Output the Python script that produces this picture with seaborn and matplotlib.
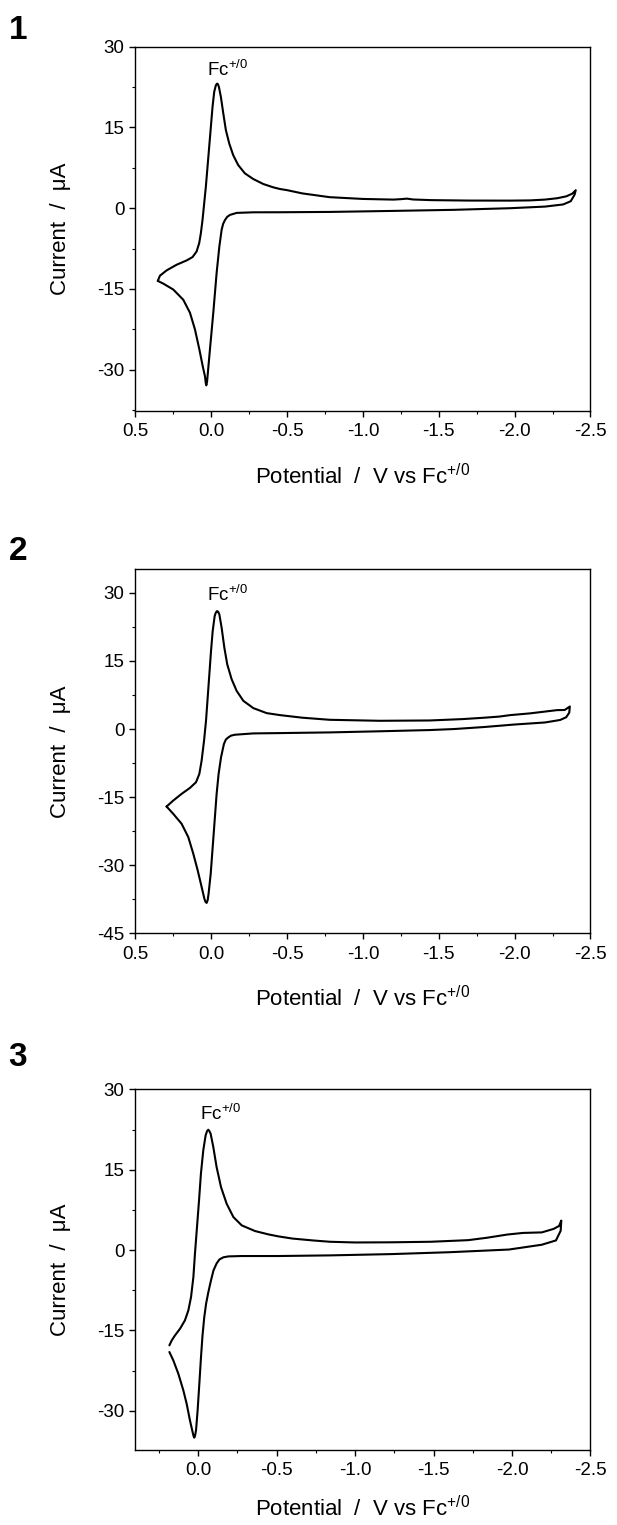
import pandas as pd
import seaborn as sns
import matplotlib.pyplot as plt
from matplotlib.ticker import MultipleLocator, FormatStrFormatter

# cyclic voltammograms, values
# panel 1 (closed loop, starts at the left vertex)
potential_1 = [0.353, 0.317, 0.251, 0.185, 0.141, 0.108, 0.079, 0.057, 0.042, 0.037,
               0.033, 0.028, 0.022, 0.009, -0.013, -0.035, -0.053, -0.068, -0.078, -0.090,
               -0.105, -0.123, -0.167, -0.277, -0.453, -0.78, -1.2, -1.6, -1.97, -2.2,
               -2.32, -2.37, -2.395, -2.403, -2.38, -2.34, -2.28, -2.2, -2.1, -1.97,
               -1.7, -1.45, -1.33, -1.29, -1.25, -1.2, -1.0, -0.78, -0.6, -0.5,
               -0.452, -0.408, -0.342, -0.276, -0.221, -0.177, -0.144, -0.118, -0.096, -0.079,
               -0.063, -0.050, -0.044, -0.039, -0.035, -0.030, -0.019, -0.008, 0.003, 0.014,
               0.025, 0.036, 0.047, 0.058, 0.069, 0.080, 0.097, 0.124, 0.163, 0.229,
               0.295, 0.339, 0.353]
current_1 = [-13.5, -14.0, -15.1, -17.0, -19.4, -22.5, -26.2, -29.3, -31.2, -32.4,
             -32.9, -32.2, -30.3, -26.2, -19.4, -12.0, -7.1, -4.0, -2.9, -2.2,
             -1.6, -1.24, -0.87, -0.76, -0.75, -0.69, -0.5, -0.3, 0.0, 0.3,
             0.7, 1.3, 2.5, 3.35, 2.7, 2.2, 1.85, 1.6, 1.45, 1.41,
             1.42, 1.5, 1.62, 1.78, 1.68, 1.6, 1.72, 2.05, 2.75, 3.35,
             3.57, 3.88, 4.5, 5.43, 6.48, 8.02, 9.87, 12.03, 14.5, 17.59,
             20.67, 22.52, 23.0, 23.14, 23.05, 22.83, 21.6, 18.82, 15.12, 11.41,
             7.71, 4.01, 0.92, -2.17, -4.64, -6.49, -8.03, -9.08, -9.70, -10.5,
             -11.55, -12.54, -13.5]

# panel 2 (closed loop)
potential_2 = [0.295, 0.251, 0.196, 0.152, 0.119, 0.090, 0.064, 0.046, 0.038, 0.031,
               0.024, 0.018, 0.004, -0.009, -0.022, -0.035, -0.048, -0.064, -0.083, -0.096,
               -0.112, -0.130, -0.156, -0.277, -0.453, -0.78, -1.1, -1.44, -1.6, -1.8,
               -2.0, -2.2, -2.30, -2.34, -2.36, -2.364, -2.33, -2.28, -2.2, -2.1,
               -1.97, -1.9, -1.8, -1.66, -1.44, -1.11, -0.78, -0.6, -0.453, -0.365,
               -0.277, -0.211, -0.167, -0.134, -0.105, -0.086, -0.068, -0.053, -0.045, -0.037,
               -0.029, -0.022, -0.009, 0.002, 0.013, 0.024, 0.035, 0.048, 0.064, 0.079,
               0.101, 0.141, 0.196, 0.251, 0.295]
current_2 = [-17.07, -18.68, -20.87, -23.8, -27.46, -31.12, -34.78, -37.35, -38.1, -38.3,
             -37.7, -36.25, -31.85, -26.0, -20.14, -14.28, -9.89, -6.23, -3.3, -2.3,
             -1.84, -1.45, -1.25, -0.96, -0.89, -0.74, -0.5, -0.22, 0.0, 0.45,
             1.0, 1.45, 2.0, 2.6, 3.6, 4.97, 4.2, 4.17, 3.85, 3.45,
             3.07, 2.75, 2.5, 2.2, 1.89, 1.82, 2.04, 2.5, 3.07, 3.51,
             4.61, 6.22, 8.41, 10.97, 14.25, 17.9, 22.32, 25.25, 25.85, 25.98,
             25.6, 24.88, 21.59, 17.2, 12.07, 6.95, 1.82, -2.57, -6.96, -9.89,
             -11.72, -12.97, -14.28, -15.75, -17.07]

# panel 3 (open scan, small gap at the start/end)
potential_3 = [0.184, 0.159, 0.127, 0.095, 0.074, 0.053, 0.036, 0.030, 0.025, 0.020,
               0.014, 0.004, -0.007, -0.017, -0.027, -0.038, -0.050, -0.064, -0.080, -0.097,
               -0.117, -0.135, -0.160, -0.192, -0.277, -0.51, -0.84, -1.23, -1.6, -1.98,
               -2.19, -2.28, -2.31, -2.314, -2.30, -2.265, -2.19, -2.07, -1.97, -1.84,
               -1.72, -1.48, -1.23, -1.0, -0.84, -0.73, -0.6, -0.51, -0.447, -0.362,
               -0.277, -0.224, -0.181, -0.145, -0.117, -0.096, -0.079, -0.071, -0.064, -0.056,
               -0.047, -0.032, -0.017, -0.005, 0.008, 0.021, 0.031, 0.046, 0.063, 0.085,
               0.116, 0.148, 0.169, 0.184]
current_3 = [-19.02, -20.58, -23.07, -26.18, -28.66, -31.77, -33.95, -34.7, -35.0, -34.6,
             -33.6, -29.9, -24.9, -20.2, -16.0, -12.6, -10.0, -7.9, -5.8, -3.8,
             -2.5, -1.75, -1.35, -1.18, -1.11, -1.11, -0.99, -0.75, -0.4, 0.1,
             1.0, 1.8, 3.6, 5.5, 4.5, 3.95, 3.3, 3.2, 2.9, 2.3,
             1.85, 1.55, 1.45, 1.42, 1.55, 1.8, 2.15, 2.56, 2.93, 3.55,
             4.61, 6.16, 8.65, 11.76, 15.49, 19.22, 21.71, 22.2, 22.46, 22.2,
             21.4, 18.6, 14.25, 9.27, 4.30, -0.68, -5.03, -8.76, -11.25, -13.12,
             -14.67, -15.91, -16.85, -17.78]

panel_names = ['1', '2', '3']
x_limits = [(0.5, -2.5), (0.5, -2.5), (0.4, -2.5)]
y_limits = [(-37.6, 30), (-45, 35.2), (-37.3, 30)]
y_ticks = [[-30, -15, 0, 15, 30], [-45, -30, -15, 0, 15, 30], [-30, -15, 0, 15, 30]]
x_ticks = [[0.5, 0.0, -0.5, -1.0, -1.5, -2.0, -2.5],
           [0.5, 0.0, -0.5, -1.0, -1.5, -2.0, -2.5],
           [0.0, -0.5, -1.0, -1.5, -2.0, -2.5]]
fc_label_pos = [(0.031, 24.5), (0.031, 28.2), (-0.012, 24.2)]

sns.set_style('ticks')
plt.rcParams['font.family'] = ['Liberation Sans', 'DejaVu Sans']
plt.rcParams['mathtext.fontset'] = 'custom'
plt.rcParams['mathtext.rm'] = 'Liberation Sans'
plt.rcParams['mathtext.it'] = 'Liberation Sans:italic'
plt.rcParams['mathtext.bf'] = 'Liberation Sans:bold'
plt.rcParams['axes.unicode_minus'] = False
plt.rcParams['text.color'] = 'black'
plt.rcParams['axes.labelcolor'] = 'black'
plt.rcParams['xtick.color'] = 'black'
plt.rcParams['ytick.color'] = 'black'

fig = plt.figure(figsize=(6.17, 15.25), dpi=100)
positions = [[0.2196, 0.7307, 0.7374, 0.2387],
             [0.2196, 0.3880, 0.7374, 0.2387],
             [0.2196, 0.0492, 0.7374, 0.2365]]
label_y = [1 - 30.8 / 1525, 1 - 551 / 1525, 1 - 1057 / 1525]
xlabel_pads = [17, 17, 12]

data = [(potential_1, current_1), (potential_2, current_2), (potential_3, current_3)]

for i, (pot, cur) in enumerate(data):
    ax = fig.add_axes(positions[i])
    df = pd.DataFrame({'Potential': pot, 'Current': cur})
    sns.lineplot(data=df, x='Potential', y='Current', sort=False, estimator=None,
                 color='black', linewidth=1.5, ax=ax)
    ax.set_xlim(*x_limits[i])
    ax.set_ylim(*y_limits[i])
    ax.set_xticks(x_ticks[i])
    ax.set_yticks(y_ticks[i])
    ax.xaxis.set_minor_locator(MultipleLocator(0.25))
    ax.yaxis.set_minor_locator(MultipleLocator(7.5))
    ax.xaxis.set_major_formatter(FormatStrFormatter('%.1f'))
    ax.yaxis.set_major_formatter(FormatStrFormatter('%d'))
    ax.tick_params(which='major', direction='out', length=4, width=1, labelsize=13.5)
    ax.tick_params(axis='x', which='major', pad=5)
    ax.tick_params(axis='y', which='major', pad=4)
    ax.tick_params(which='minor', direction='out', length=2.5, width=0.8)
    for side in ['top', 'right', 'left', 'bottom']:
        ax.spines[side].set_visible(True)
        ax.spines[side].set_linewidth(1.0)
        ax.spines[side].set_color('black')
    ax.set_xlabel(r'Potential  /  V vs Fc$^{\mathrm{+/0}}$', fontsize=16,
                  labelpad=xlabel_pads[i])
    ax.set_ylabel('Current  /  μA', fontsize=16, labelpad=19)
    ax.text(fc_label_pos[i][0], fc_label_pos[i][1], r'Fc$^{\mathrm{+/0}}$',
            fontsize=13.5, ha='left', va='baseline')
    fig.text(18 / 617, label_y[i], panel_names[i], fontsize=24, fontweight='bold',
             ha='center', va='center')

fig.savefig('out.png', dpi=100)
